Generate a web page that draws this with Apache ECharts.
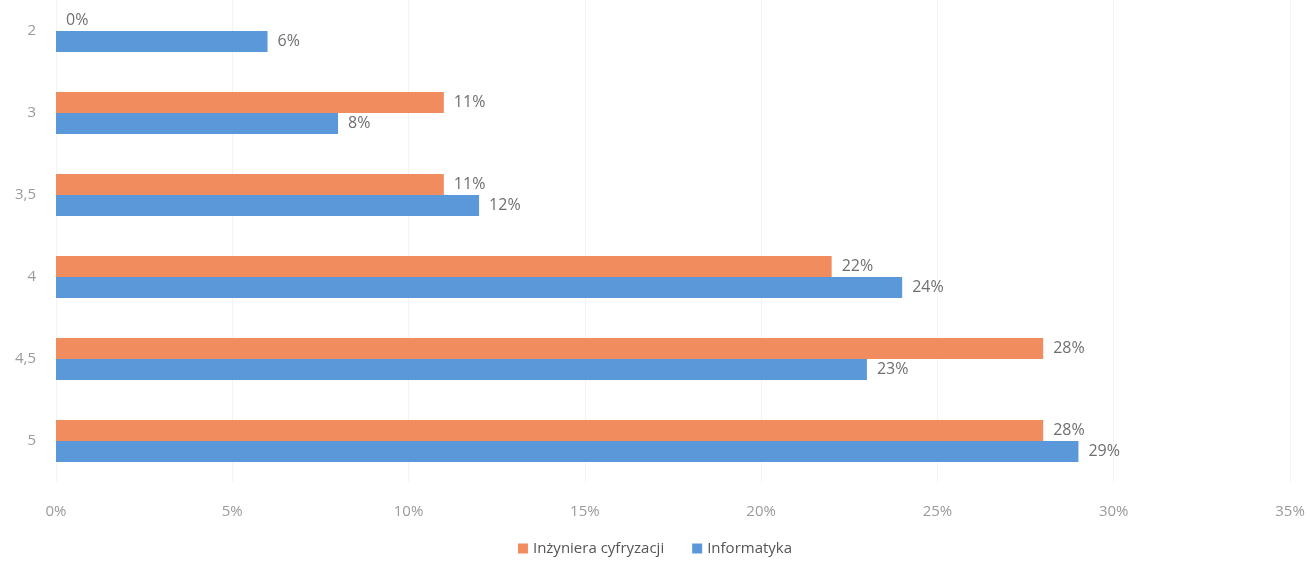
<!DOCTYPE html>
<html>
<head>
<meta charset="utf-8">
<script src="https://cdn.jsdelivr.net/npm/echarts@6/dist/echarts.min.js"></script>
<style>
html,body{margin:0;padding:0;background:#fff;}
#chart{width:1310px;height:565px;}
</style>
</head>
<body>
<div id="chart"></div>
<script>
// grades, top to bottom
const categories = ['2', '3', '3,5', '4', '4,5', '5'];
const cyfryzacja = [0, 11, 11, 22, 28, 28];
const informatyka = [6, 8, 12, 24, 23, 29];
const xTicks = [0, 5, 10, 15, 20, 25, 30, 35];

const chart = echarts.init(document.getElementById('chart'));
const labelStyle = {
    show: true,
    position: 'right',
    distance: 10,
    formatter: '{c}%',
    color: '#6f6f6f',
    fontFamily: 'Open Sans',
    fontSize: 16
};
const option = {
    animation: false,
    textStyle: { fontFamily: 'Open Sans' },
    grid: { left: 56, right: 20, top: -10, bottom: 83, outerBoundsMode: 'none' },
    legend: {
        bottom: 4,
        left: 'center',
        itemWidth: 10,
        itemHeight: 10,
        itemGap: 28,
        icon: 'rect',
        textStyle: { color: '#555', fontSize: 15, fontFamily: 'Open Sans' },
        data: ['Inżyniera cyfryzacji', 'Informatyka']
    },
    xAxis: {
        type: 'value',
        min: xTicks[0],
        max: xTicks[xTicks.length - 1],
        interval: 5,
        axisLine: { show: false },
        axisTick: { show: false },
        splitLine: { lineStyle: { color: '#f3f3f3' } },
        axisLabel: {
            formatter: '{value}%',
            color: '#9a9a9a',
            fontSize: 15,
            margin: 22
        }
    },
    yAxis: {
        type: 'category',
        inverse: true,
        data: categories,
        axisLine: { show: false },
        axisTick: { show: false },
        axisLabel: { color: '#9a9a9a', fontSize: 15, margin: 20 }
    },
    series: [
        {
            name: 'Inżyniera cyfryzacji',
            type: 'bar',
            data: cyfryzacja,
            barGap: '0%',
            barCategoryGap: '49%',
            itemStyle: { color: '#F08C5E' },
            label: labelStyle
        },
        {
            name: 'Informatyka',
            type: 'bar',
            data: informatyka,
            barGap: '0%',
            barCategoryGap: '49%',
            itemStyle: { color: '#5B98DA' },
            label: labelStyle
        }
    ]
};
chart.setOption(option);
</script>
</body>
</html>
